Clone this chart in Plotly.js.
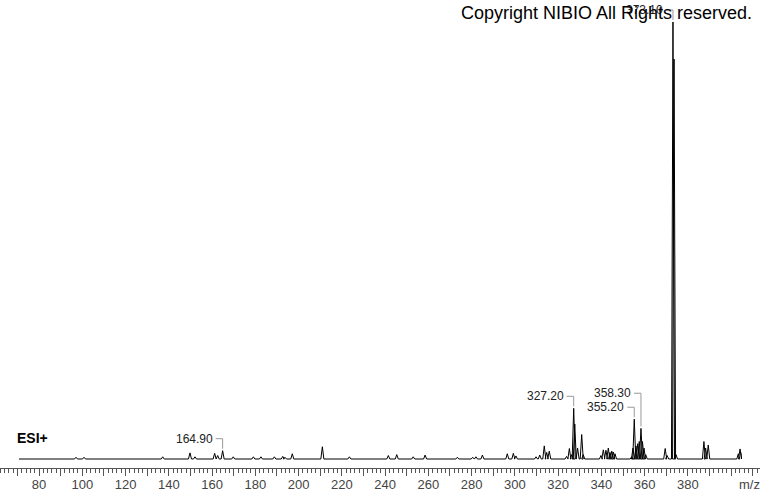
<!DOCTYPE html>
<html>
<head>
<meta charset="utf-8">
<script src="https://cdn.plot.ly/plotly-3.0.1.min.js"></script>
<style>
  html, body { margin: 0; padding: 0; background: #fff; }
  #chart { width: 760px; height: 492px; }
</style>
</head>
<body>
<div id="chart"></div>
<script>
// ---- data ----
var spectrumStart = 70.75;
var spectrumEnd = 404.5;
var peakMz = [
  97.1, 100.8, 137.2, 149.8, 152.1, 161.2, 162.6, 164.9, 169.8, 179.1,
  182.6, 188.8, 192.7, 193.7, 197.1, 211.0, 223.5, 241.5, 245.4, 253.0,
  258.5, 273.4, 280.5, 282.0, 285.0, 296.5, 299.3, 300.5, 309.8, 311.5,
  313.6, 314.7, 315.9, 323.9, 325.2, 326.3, 327.2, 327.7, 329.0, 330.9,
  331.6, 339.8, 340.9, 342.1, 343.2, 344.0, 344.8, 345.5, 346.3, 354.0,
  354.6, 355.2, 356.0, 356.8, 357.5, 358.3, 359.0, 359.7, 360.5, 369.5,
  370.4, 373.1, 373.6, 374.5, 387.4, 388.2, 389.4, 403.3, 404.1
];
var peakInt = [
  0.4, 0.4, 0.5, 1.4, 0.5, 1.3, 0.8, 1.9, 0.5, 0.5,
  0.5, 0.5, 0.6, 0.4, 1.2, 2.8, 0.5, 0.8, 1.0, 0.5,
  0.9, 0.4, 0.4, 0.5, 0.9, 1.2, 1.3, 0.7, 0.5, 0.9,
  3.0, 1.5, 1.8, 0.6, 2.4, 1.0, 11.6, 8.0, 2.5, 5.6,
  1.0, 0.8, 2.1, 2.0, 2.5, 1.5, 1.8, 1.6, 1.2, 0.5,
  2.5, 9.1, 3.0, 3.5, 4.0, 7.0, 4.0, 2.5, 1.0, 2.4,
  0.8, 100, 91.5, 1.0, 4.0, 2.5, 3.2, 1.2, 2.3
];
var labeledMz = [164.9, 327.2, 355.2, 358.3, 373.1];
var tickValues = [70, 80, 90, 100, 110, 120, 130, 140, 150, 160, 170, 180, 190, 200, 210,
  220, 230, 240, 250, 260, 270, 280, 290, 300, 310, 320, 330, 340, 350, 360, 370, 380, 390, 400, 410];
var tickLabels = ["", "80", "", "100", "", "120", "", "140", "", "160", "", "180", "", "200", "",
  "220", "", "240", "", "260", "", "280", "", "300", "", "320", "", "340", "", "360", "", "380", "", "", ""];
var copyrightText = "Copyright NIBIO All Rights reserved.";
var modeText = "ESI+";
var axisUnit = "m/z";

// ---- layout constants ----
var W = 760, H = 492;
var M = {l: 0, r: 0, t: 0, b: 24};
var xRange = [61.97, 413.33];
var yRange = [-2.06, 105.03];
var plotH = H - M.t - M.b;
var pxPerY = plotH / (yRange[1] - yRange[0]);
var plotW = W - M.l - M.r;
var pxPerX = plotW / (xRange[1] - xRange[0]);
var halfWidth = 0.7;
var FONT = 'Liberation Sans, Arial, sans-serif';

// ---- build profile line from the peak table ----
var order = peakMz.map(function (m, i) { return i; }).sort(function (a, b) { return peakMz[a] - peakMz[b]; });
var lx = [spectrumStart], ly = [0];
order.forEach(function (i) {
  lx.push(peakMz[i] - halfWidth, peakMz[i], peakMz[i] + halfWidth);
  ly.push(0, peakInt[i], 0);
});
lx.push(spectrumEnd); ly.push(1.5);

var traces = [{
  type: 'scatter', mode: 'lines', x: lx, y: ly,
  line: {color: '#000', width: 1}, hoverinfo: 'skip', showlegend: false
}];

// ---- peak labels with bracket leaders ----
var annotations = [], shapes = [];
var baseLift = 12, lineGap = 14, prev = null;
labeledMz.forEach(function (m) {
  var idx = peakMz.indexOf(m);
  var h = peakInt[idx];
  var peakTopPx = h * pxPerY;
  var lift = baseLift;
  if (prev && (m - prev.m) * pxPerX < 45) {
    var centerPx = peakTopPx + lift;
    if (centerPx < prev.center + lineGap) lift = prev.center + lineGap - peakTopPx;
  }
  prev = {m: m, center: peakTopPx + lift};
  annotations.push({
    x: m, y: h, xref: 'x', yref: 'y', text: m.toFixed(2), showarrow: false,
    xanchor: 'right', yanchor: 'middle', xshift: -8, yshift: lift,
    font: {family: FONT, size: 12, color: '#222'}
  });
  shapes.push({
    type: 'path', xref: 'x', yref: 'y', xsizemode: 'pixel', ysizemode: 'pixel',
    xanchor: m, yanchor: h,
    path: 'M -7,' + lift + ' L 0,' + lift + ' L 0,2',
    line: {color: '#999', width: 1}
  });
});

annotations.push({
  xref: 'paper', yref: 'paper', x: 754 / W, y: (plotH - 13) / plotH,
  xanchor: 'right', yanchor: 'middle', showarrow: false, text: copyrightText,
  font: {family: FONT, size: 18, color: '#000'}
});
annotations.push({
  xref: 'paper', yref: 'paper', x: 15 / W, y: (plotH - 438) / plotH,
  xanchor: 'left', yanchor: 'middle', showarrow: false, text: '<b>' + modeText + '</b>',
  font: {family: FONT, size: 14, color: '#000'}
});
annotations.push({
  xref: 'paper', yref: 'paper', x: 749 / W, y: (plotH - 484) / plotH,
  xanchor: 'center', yanchor: 'middle', showarrow: false, text: axisUnit,
  font: {family: FONT, size: 13, color: '#444'}
});

var layout = {
  width: W, height: H, margin: M,
  paper_bgcolor: '#fff', plot_bgcolor: '#fff',
  showlegend: false,
  xaxis: {
    range: xRange, showgrid: false, zeroline: false,
    showline: true, linecolor: '#555', linewidth: 1,
    tickmode: 'array', tickvals: tickValues, ticktext: tickLabels,
    ticks: 'outside', ticklen: 7, tickcolor: '#555', tickwidth: 1,
    ticklabelstandoff: -3,
    tickfont: {family: FONT, size: 13, color: '#444'},
    minor: {tickmode: 'linear', tick0: 0, dtick: 2, ticks: 'outside', ticklen: 4, tickcolor: '#555', tickwidth: 1, showgrid: false}
  },
  yaxis: {
    range: yRange, visible: false, showgrid: false, zeroline: false
  },
  annotations: annotations,
  shapes: shapes
};

Plotly.newPlot('chart', traces, layout, {staticPlot: true, displayModeBar: false});
</script>
</body>
</html>
